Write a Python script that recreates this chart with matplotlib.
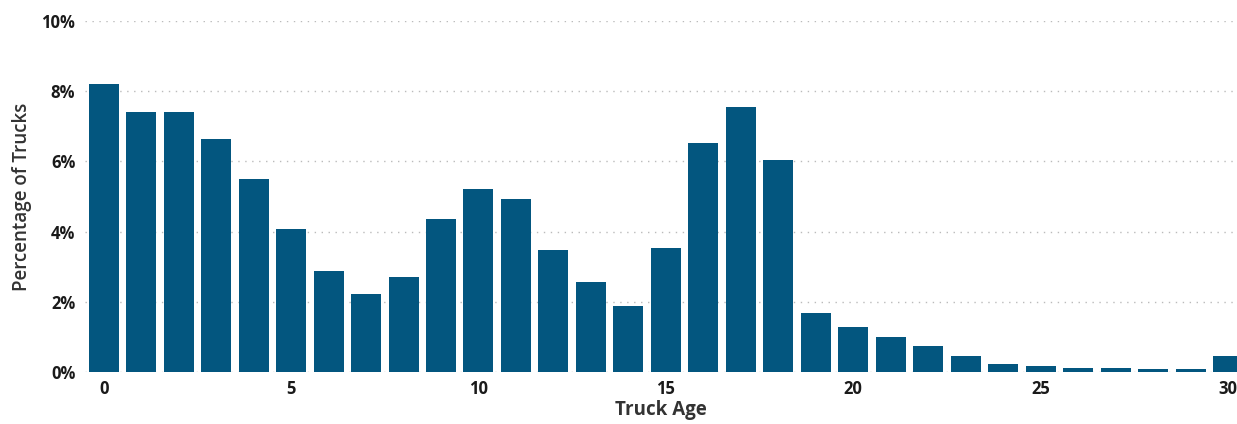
import matplotlib.pyplot as plt
from matplotlib.ticker import FuncFormatter

ages = list(range(31))
pct = [8.2, 7.41, 7.41, 6.64, 5.5, 4.07, 2.88, 2.22, 2.7, 4.36,
       5.21, 4.93, 3.48, 2.56, 1.88, 3.53, 6.52, 7.55, 6.04, 1.68,
       1.27, 1.01, 0.74, 0.45, 0.24, 0.17, 0.11, 0.12, 0.10, 0.09,
       0.45]
xticks = [0, 5, 10, 15, 20, 25, 30]
yticks = [0, 2, 4, 6, 8, 10]

plt.rcParams['font.family'] = ['Open Sans', 'DejaVu Sans']

fig = plt.figure(figsize=(12.37, 4.24), dpi=100)
ax = fig.add_axes([0.0687, 0.1226, 0.9313, 0.8279])

ax.bar(ages, pct, width=0.8, color='#03567f', zorder=3)

ax.set_xlim(-0.5, 30.24)
ax.set_ylim(0, 10)
ax.set_xticks(xticks)
ax.set_yticks(yticks)
ax.yaxis.set_major_formatter(FuncFormatter(lambda v, p: f'{v:.0f}%'))
for lab in ax.get_xticklabels() + ax.get_yticklabels():
    lab.set_fontweight('bold')
    lab.set_fontsize(12)
    lab.set_color('#1a1a1a')
ax.tick_params(axis='y', length=0, pad=7)
ax.tick_params(axis='x', length=0, pad=6)

ax.grid(axis='y', linestyle=(0, (1, 4)), color='#bbbbbb', linewidth=1, zorder=0)
for s in ax.spines.values():
    s.set_visible(False)

ax.set_ylabel('Percentage of Trucks', fontsize=13.5, fontweight='semibold',
              color='#333333', labelpad=7)
ax.set_xlabel('Truck Age', fontsize=13.5, fontweight='bold', color='#333333', labelpad=1)

fig.savefig('out.png', dpi=100)
